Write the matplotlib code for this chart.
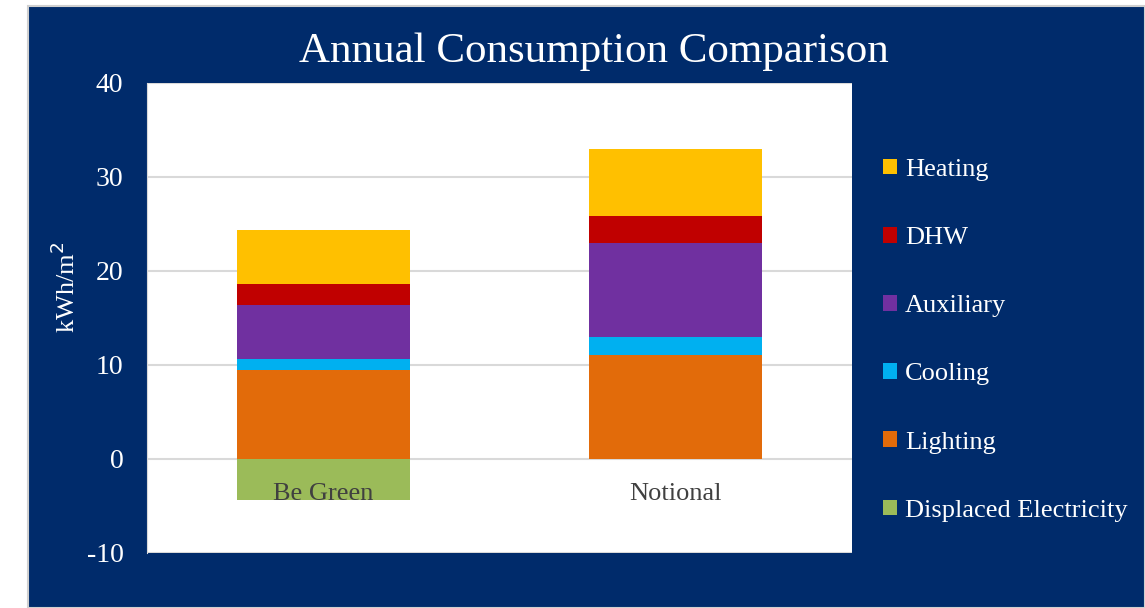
import matplotlib
matplotlib.use('Agg')
import matplotlib.pyplot as plt
from matplotlib.patches import Patch, Rectangle

# energy use per floor area, kWh/m2
categories = ['Be Green', 'Notional']
lighting = [9.45, 11.05]
cooling = [1.15, 1.9]
auxiliary = [5.75, 10.0]
dhw = [2.25, 2.95]
heating = [5.75, 7.1]
displaced = [-4.4, 0.0]

series = [
    ('Lighting', lighting, '#E26B0A'),
    ('Cooling', cooling, '#00B0F0'),
    ('Auxiliary', auxiliary, '#7030A0'),
    ('DHW', dhw, '#C00000'),
    ('Heating', heating, '#FFC000'),
]
displaced_color = '#9BBB59'
navy = '#002B6B'

plt.rcParams['font.family'] = ['Liberation Serif', 'DejaVu Serif']
plt.rcParams['axes.unicode_minus'] = False

fig = plt.figure(figsize=(11.45, 6.08), dpi=100)
fig.patch.set_facecolor('white')
# dark panel behind everything
bg = Rectangle((28 / 1145, 0), 1 - 28 / 1145, 1 - 6 / 608,
               transform=fig.transFigure, facecolor=navy,
               edgecolor='#d0d0d0', linewidth=1.5, zorder=-10)
fig.patches.append(bg)

ax = fig.add_axes([147 / 1145, 1 - 553 / 608, 705 / 1145, 470 / 608])
ax.set_facecolor('white')

x = range(len(categories))
bottom = [0.0] * len(categories)
for name, vals, color in series:
    ax.bar(x, vals, width=0.49, bottom=bottom, color=color, zorder=3)
    bottom = [b + v for b, v in zip(bottom, vals)]
ax.bar(x, displaced, width=0.49, color=displaced_color, zorder=3)

ax.set_xlim(-0.5, 1.5)
ax.set_ylim(-10, 40)
ax.set_yticks(range(-10, 41, 10))
ax.yaxis.grid(True, color='#d9d9d9', linewidth=1.5, zorder=0)
ax.set_xticks([])
for s in ax.spines.values():
    s.set_visible(False)
ax.spines['left'].set_visible(True)
ax.spines['left'].set_color('#d9d9d9')
ax.tick_params(axis='y', length=0, colors='white', labelsize=20, pad=17)

# category names sit just under the zero line, inside the plot
for i, name in enumerate(categories):
    ax.text(i, -3.7, name, ha='center', va='center', fontsize=19,
            color='#404040', zorder=4)

ax.set_ylabel('kWh/m$^2$', color='white', fontsize=19)
ax.yaxis.set_label_coords(-0.095, 0.566)

fig.text(594 / 1145, 1 - 52 / 608, 'Annual Consumption Comparison',
         ha='center', va='center', color='white', fontsize=31)

legend_order = ['Heating', 'DHW', 'Auxiliary', 'Cooling', 'Lighting']
colors = {n: c for n, _, c in series}
handles = [Patch(facecolor=colors[n], label=n) for n in legend_order]
handles.append(Patch(facecolor=displaced_color, label='Displaced Electricity'))
leg = fig.legend(handles=handles, loc='upper left',
                 bbox_to_anchor=(872 / 1145, 1 - 148 / 608),
                 frameon=False, fontsize=19, labelcolor='white',
                 handlelength=0.55, handleheight=0.55, handletextpad=0.3,
                 labelspacing=1.74, borderaxespad=0)

fig.savefig('out.png', dpi=100, facecolor=fig.get_facecolor())
